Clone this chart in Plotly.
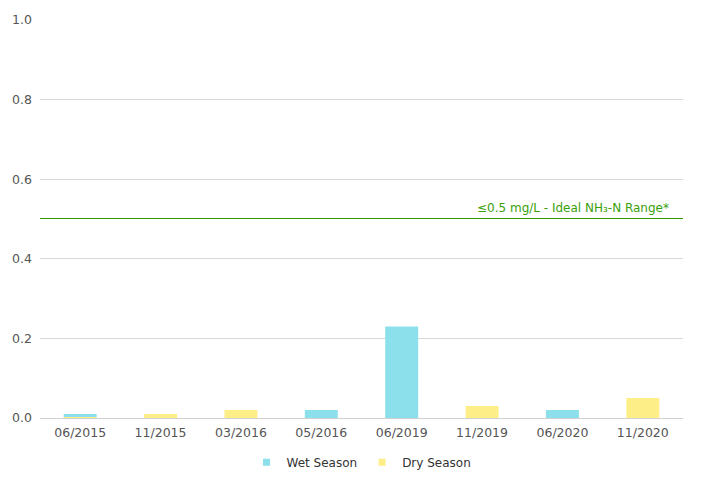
import plotly.graph_objects as go

categories = ["06/2015", "11/2015", "03/2016", "05/2016", "06/2019", "11/2019", "06/2020", "11/2020"]
wet_values = [0.01, None, None, 0.02, 0.23, None, 0.02, None]
dry_values = [0.001, 0.01, 0.02, None, None, 0.03, None, 0.05]
threshold = 0.5
threshold_label = "≤0.5 mg/L - Ideal NH₃-N Range*"

wet_color = "#8BE0EB"
dry_color = "#FEEE88"

fig = go.Figure()
fig.add_trace(go.Bar(x=categories, y=wet_values, name="Wet Season", showlegend=False,
                     marker=dict(color=wet_color, line=dict(width=0)), width=0.41))
fig.add_trace(go.Bar(x=categories, y=dry_values, name="Dry Season", showlegend=False,
                     marker=dict(color=dry_color, line=dict(width=0)), width=0.41))
# legend entries with small square symbols
fig.add_trace(go.Scatter(x=[None], y=[None], mode="markers", name="Wet Season",
                         marker=dict(symbol="square", size=7, color=wet_color)))
fig.add_trace(go.Scatter(x=[None], y=[None], mode="markers", name="Dry Season",
                         marker=dict(symbol="square", size=7, color=dry_color)))

# half-pixel nudge so the 1px rule renders crisp
fig.add_shape(type="line", xref="paper", x0=0, x1=1, yref="y",
              y0=threshold + 0.5 / 398, y1=threshold + 0.5 / 398,
              line=dict(color="#339900", width=1))
fig.add_annotation(xref="paper", x=0.982, yref="y", y=threshold, text=threshold_label,
                   showarrow=False, xanchor="right", yanchor="bottom", yshift=2,
                   font=dict(family="DejaVu Sans", size=12, color="#3AA00A"))

fig.update_layout(
    width=702, height=498,
    margin=dict(l=32, r=27, t=12, b=88),
    barmode="overlay",
    plot_bgcolor="white", paper_bgcolor="white",
    font=dict(family="DejaVu Sans", size=12.5, color="#555555"),
    showlegend=True,
    legend=dict(orientation="h", x=0.5, xanchor="center", y=-0.075, yanchor="top",
                font=dict(family="DejaVu Sans", size=12, color="#333333"),
                itemwidth=30, tracegroupgap=0),
    xaxis=dict(type="category", showgrid=False, showline=True, linecolor="#d0d0d0",
               ticks="", automargin=False, ticklabelstandoff=3,
               tickfont=dict(size=12.5, color="#555555")),
    yaxis=dict(range=[0, 1.0], dtick=0.2, tickformat=".1f", showgrid=True,
               gridcolor="#d9d9d9", zeroline=False, showline=False, ticks="",
               automargin=False, ticklabelstandoff=7,
               tickfont=dict(size=12.5, color="#555555")),
)

fig.write_html("out.html")
